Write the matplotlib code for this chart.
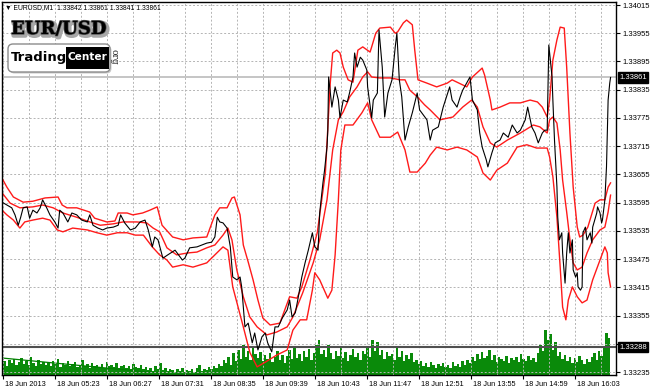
"""
EURUSD M1 chart with bands and tick volume, MT4 style.
"""

import numpy as np
import matplotlib
matplotlib.use("Agg")
import matplotlib.pyplot as plt
import matplotlib.patheffects as pe
from matplotlib import font_manager
from matplotlib.patches import FancyBboxPatch, Rectangle
from matplotlib.transforms import ScaledTranslation, blended_transform_factory

# ─── Data (bar index 0 = 18 Jun 2013 04:18, one bar per minute) ───────────────

close_pts = [
    (0, 1.33596), (6, 1.33590), (12, 1.33584), (16, 1.33569), (20, 1.33547), (23, 1.33564), (26, 1.33584), (31, 1.33586), (34, 1.33562), (38, 1.33579),
    (43, 1.33573), (47, 1.33584), (50, 1.33601), (55, 1.33584), (59, 1.33569), (65, 1.33554), (69, 1.33541), (71, 1.33579), (75, 1.33573), (81, 1.33554),
    (86, 1.33573), (92, 1.33569), (98, 1.33558), (105, 1.33554), (108, 1.33569), (112, 1.33547), (118, 1.33541), (124, 1.33537), (129, 1.33541), (137, 1.33543),
    (143, 1.33547), (146, 1.33569), (151, 1.33552), (158, 1.33537), (164, 1.33541), (170, 1.33554), (176, 1.33558), (180, 1.33537), (185, 1.33501), (188, 1.33522),
    (192, 1.33516), (198, 1.33477), (204, 1.33484), (213, 1.33494), (222, 1.33473), (225, 1.33477), (231, 1.33499), (240, 1.33501), (246, 1.33505), (252, 1.33509),
    (258, 1.33511), (262, 1.33522), (265, 1.33564), (268, 1.33554), (272, 1.33552), (277, 1.33541), (281, 1.33501), (284, 1.33437), (289, 1.33431), (293, 1.33437),
    (295, 1.33416), (299, 1.33331), (303, 1.33339), (308, 1.33297), (311, 1.33318), (315, 1.33282), (320, 1.33310), (324, 1.33318), (327, 1.33297), (332, 1.33278),
    (336, 1.33331), (340, 1.33331), (345, 1.33350), (351, 1.33367), (354, 1.33388), (357, 1.33352), (361, 1.33361), (364, 1.33388), (369, 1.33437), (373, 1.33467),
    (377, 1.33494), (382, 1.33531), (385, 1.33501), (389, 1.33494), (391, 1.33573), (395, 1.33637), (397, 1.33664), (400, 1.33713), (401, 1.33749), (402, 1.33862),
    (406, 1.33798), (410, 1.33841), (414, 1.33813), (416, 1.33775), (420, 1.33813), (425, 1.33809), (428, 1.33830), (432, 1.33862), (434, 1.33913), (437, 1.33883),
    (441, 1.33904), (444, 1.33898), (449, 1.33877), (450, 1.33841), (455, 1.33775), (457, 1.33813), (462, 1.33828), (464, 1.33962), (468, 1.33883), (471, 1.33777),
    (475, 1.33828), (480, 1.33856), (484, 1.33926), (486, 1.33955), (489, 1.33856), (492, 1.33820), (496, 1.33728), (500, 1.33756), (505, 1.33786), (511, 1.33828),
    (514, 1.33792), (523, 1.33771), (527, 1.33728), (530, 1.33749), (537, 1.33756), (543, 1.33798), (551, 1.33841), (554, 1.33813), (560, 1.33798), (564, 1.33820),
    (567, 1.33834), (576, 1.33862), (579, 1.33813), (585, 1.33792), (588, 1.33743), (591, 1.33713), (596, 1.33686), (598, 1.33671), (603, 1.33701), (607, 1.33722),
    (613, 1.33728), (617, 1.33743), (623, 1.33734), (628, 1.33760), (634, 1.33743), (638, 1.33749), (644, 1.33771), (647, 1.33798), (652, 1.33756), (656, 1.33743),
    (660, 1.33722), (665, 1.33743), (668, 1.33749), (671, 1.33749), (673, 1.33930), (677, 1.33862), (678, 1.33813), (680, 1.33728), (683, 1.33628), (684, 1.33564),
    (686, 1.33516), (689, 1.33531), (690, 1.33488), (693, 1.33424), (695, 1.33488), (697, 1.33531), (699, 1.33488), (702, 1.33516), (703, 1.33452), (706, 1.33437),
    (708, 1.33446), (709, 1.33416), (712, 1.33409), (714, 1.33416), (715, 1.33531), (718, 1.33543), (720, 1.33516), (724, 1.33531), (726, 1.33509), (727, 1.33543),
    (732, 1.33573), (733, 1.33586), (736, 1.33573), (738, 1.33552), (739, 1.33558), (742, 1.33601), (744, 1.33671), (746, 1.33813), (748, 1.33849), (749, 1.33861),
]

upper_pts = [
    (0, 1.33647), (6, 1.33628), (14, 1.33607), (26, 1.33596), (38, 1.33598), (53, 1.33605), (69, 1.33607), (74, 1.33590), (80, 1.33584), (92, 1.33584),
    (108, 1.33575), (114, 1.33562), (129, 1.33554), (139, 1.33556), (143, 1.33573), (154, 1.33573), (161, 1.33569), (173, 1.33573), (182, 1.33579), (191, 1.33586),
    (197, 1.33547), (210, 1.33522), (223, 1.33516), (235, 1.33520), (252, 1.33522), (262, 1.33569), (268, 1.33584), (277, 1.33584), (283, 1.33605), (286, 1.33607),
    (293, 1.33569), (297, 1.33505), (303, 1.33469), (309, 1.33431), (315, 1.33388), (321, 1.33350), (330, 1.33335), (342, 1.33339), (354, 1.33395), (363, 1.33392),
    (369, 1.33416), (379, 1.33473), (388, 1.33531), (391, 1.33569), (398, 1.33658), (404, 1.33849), (407, 1.33913), (412, 1.33919), (416, 1.33913), (420, 1.33883),
    (426, 1.33856), (432, 1.33851), (438, 1.33919), (444, 1.33926), (453, 1.33915), (455, 1.33926), (460, 1.33955), (465, 1.33966), (478, 1.33968), (484, 1.33955),
    (487, 1.33958), (494, 1.33977), (498, 1.33983), (505, 1.33973), (508, 1.33919), (512, 1.33856), (523, 1.33849), (535, 1.33841), (548, 1.33849), (554, 1.33856),
    (572, 1.33841), (579, 1.33862), (591, 1.33881), (594, 1.33866), (601, 1.33813), (603, 1.33792), (613, 1.33798), (625, 1.33807), (638, 1.33807), (650, 1.33813),
    (659, 1.33809), (665, 1.33798), (671, 1.33777), (674, 1.33813), (678, 1.33898), (683, 1.33941), (687, 1.33968), (692, 1.33966), (695, 1.33883), (699, 1.33743),
    (703, 1.33628), (708, 1.33543), (711, 1.33522), (715, 1.33526), (721, 1.33543), (730, 1.33594), (736, 1.33601), (742, 1.33601), (746, 1.33628), (749, 1.33637),
]

middle_pts = [
    (0, 1.33616), (10, 1.33594), (22, 1.33584), (38, 1.33586), (50, 1.33590), (63, 1.33584), (75, 1.33573), (92, 1.33564), (108, 1.33554), (121, 1.33547),
    (137, 1.33550), (149, 1.33554), (166, 1.33554), (178, 1.33552), (186, 1.33541), (194, 1.33533), (203, 1.33499), (215, 1.33484), (228, 1.33488), (240, 1.33490),
    (252, 1.33499), (262, 1.33505), (272, 1.33526), (278, 1.33541), (283, 1.33516), (289, 1.33452), (297, 1.33395), (305, 1.33352), (314, 1.33331), (326, 1.33314),
    (338, 1.33320), (351, 1.33331), (358, 1.33352), (370, 1.33403), (383, 1.33467), (391, 1.33516), (400, 1.33601), (407, 1.33707), (414, 1.33771), (420, 1.33788),
    (428, 1.33820), (437, 1.33841), (444, 1.33862), (450, 1.33873), (455, 1.33862), (465, 1.33860), (478, 1.33860), (490, 1.33856), (496, 1.33856), (502, 1.33834),
    (511, 1.33820), (520, 1.33803), (527, 1.33792), (539, 1.33771), (555, 1.33777), (567, 1.33798), (578, 1.33813), (585, 1.33798), (592, 1.33756), (601, 1.33722),
    (609, 1.33713), (622, 1.33728), (638, 1.33743), (654, 1.33760), (662, 1.33756), (671, 1.33743), (674, 1.33771), (678, 1.33777), (683, 1.33764), (687, 1.33707),
    (690, 1.33643), (695, 1.33575), (699, 1.33516), (703, 1.33467), (708, 1.33452), (714, 1.33458), (720, 1.33488), (727, 1.33516), (736, 1.33537), (742, 1.33543),
    (746, 1.33575), (749, 1.33611),
]

lower_pts = [
    (0, 1.33579), (6, 1.33569), (14, 1.33558), (22, 1.33541), (28, 1.33554), (38, 1.33558), (50, 1.33562), (59, 1.33558), (68, 1.33537), (75, 1.33533),
    (87, 1.33541), (105, 1.33537), (117, 1.33531), (129, 1.33526), (142, 1.33531), (154, 1.33531), (164, 1.33526), (174, 1.33526), (185, 1.33501), (194, 1.33484),
    (203, 1.33473), (210, 1.33458), (223, 1.33463), (235, 1.33458), (252, 1.33467), (262, 1.33484), (272, 1.33501), (278, 1.33494), (284, 1.33416), (297, 1.33331),
    (305, 1.33277), (314, 1.33246), (324, 1.33256), (338, 1.33271), (351, 1.33282), (358, 1.33324), (367, 1.33346), (375, 1.33346), (382, 1.33409), (385, 1.33446),
    (391, 1.33431), (401, 1.33392), (406, 1.33409), (410, 1.33484), (414, 1.33601), (417, 1.33707), (422, 1.33760), (432, 1.33760), (443, 1.33786), (450, 1.33807),
    (455, 1.33771), (465, 1.33734), (478, 1.33734), (487, 1.33745), (496, 1.33707), (502, 1.33660), (511, 1.33660), (521, 1.33679), (527, 1.33696), (535, 1.33713),
    (548, 1.33707), (560, 1.33713), (572, 1.33707), (585, 1.33692), (592, 1.33658), (601, 1.33643), (609, 1.33664), (622, 1.33679), (634, 1.33713), (646, 1.33718),
    (658, 1.33711), (671, 1.33711), (674, 1.33692), (678, 1.33650), (683, 1.33564), (687, 1.33458), (690, 1.33373), (694, 1.33346), (697, 1.33388), (702, 1.33416),
    (708, 1.33395), (714, 1.33382), (720, 1.33388), (727, 1.33431), (736, 1.33473), (742, 1.33501), (745, 1.33488), (746, 1.33446), (749, 1.33416),
]

# tick volume, one value per 3 bars starting at bar 0
VOL_STEP = 3
volume = [
    44, 56, 36, 60, 48, 64, 40, 52, 68, 44,
    56, 40, 72, 48, 36, 60, 44, 52, 40, 48,
    36, 56, 44, 64, 32, 48, 40, 56, 36, 44,
    52, 32, 40, 60, 36, 44, 28, 48, 36, 40,
    32, 44, 28, 52, 36, 40, 32, 48, 28, 36,
    40, 28, 36, 24, 44, 32, 28, 40, 24, 32,
    20, 28, 16, 36, 24, 48, 20, 28, 16, 24,
    20, 12, 24, 16, 28, 12, 20, 16, 24, 12,
    28, 40, 16, 24, 20, 32, 24, 36, 28, 44,
    36, 60, 48, 72, 40, 88, 56, 100, 64, 120,
    72, 96, 60, 112, 84, 68, 92, 56, 80, 64,
    88, 52, 72, 96, 60, 80, 48, 76, 100, 64,
    112, 68, 84, 56, 96, 72, 104, 60, 88, 120,
    140, 84, 100, 72, 120, 88, 64, 96, 76, 108,
    68, 92, 56, 80, 104, 72, 88, 60, 96, 84,
    112, 72, 140, 96, 132, 80, 100, 64, 92, 76,
    84, 60, 112, 72, 96, 56, 80, 64, 88, 52,
    60, 44, 56, 36, 48, 32, 52, 40, 28, 44,
    36, 48, 32, 40, 28, 52, 36, 44, 32, 56,
    40, 60, 48, 72, 56, 84, 64, 92, 68, 76,
    100, 60, 80, 52, 72, 64, 56, 76, 48, 68,
    60, 72, 52, 84, 64, 56, 76, 60, 68, 52,
    88, 120, 96, 180, 140, 164, 100, 132, 76, 92,
    64, 80, 56, 72, 48, 68, 52, 76, 60, 44,
    64, 52, 72, 88, 60, 96, 76, 112, 168, 148,
]

# straight line drawn in the volume pane (start bar, end bar)
vol_line_bars = [0, 205]
vol_line_vals = [68, 4]

time_labels = ["18 Jun 2013", "18 Jun 05:23", "18 Jun 06:27", "18 Jun 07:31",
               "18 Jun 08:35", "18 Jun 09:39", "18 Jun 10:43", "18 Jun 11:47",
               "18 Jun 12:51", "18 Jun 13:55", "18 Jun 14:59", "18 Jun 16:03"]
price_labels = ["1.33235", "1.33295", "1.33355", "1.33415", "1.33475", "1.33535",
                "1.33595", "1.33655", "1.33715", "1.33775", "1.33835", "1.33895",
                "1.33955", "1.34015"]

header = "\u25bc EURUSD,M1  1.33842 1.33861 1.33841 1.33861"
bid_price = 1.33861
line_price = 1.33288

# ─── Figure ───────────────────────────────────────────────────────────────────

W, H = 650, 391
fig = plt.figure(figsize=(W / 100, H / 100), dpi=100)
fig.patch.set_facecolor("white")

rect = [2 / W, (H - 375) / H, 614 / W, 373 / H]
n_bars = 755.7

names = {f.name for f in font_manager.fontManager.ttflist}
LAB_FONT = "Liberation Sans" if "Liberation Sans" in names else "DejaVu Sans"

# volume pane (behind price)
ax_v = fig.add_axes(rect)
vol_bars = np.arange(len(volume)) * VOL_STEP
ax_v.bar(vol_bars, volume, width=VOL_STEP * 0.98, color="#0a8a0a", linewidth=0)
ax_v.plot(vol_line_bars, vol_line_vals, color="#008000", lw=0.9)
ax_v.set_xlim(0, n_bars)
ax_v.set_ylim(0, 373 * 4)
ax_v.axis("off")

# price pane
ax = fig.add_axes(rect)
ax.patch.set_visible(False)

price_ticks = [float(p) for p in price_labels]
label_bars = list(range(1, 1 + 64 * len(time_labels), 64))

ax.set_xlim(0, n_bars)
ax.set_ylim(1.3322875, 1.3402138)

# grid
for p in price_ticks:
    ax.axhline(p, color="#b4b4b4", lw=0.7, ls=(0, (2, 2)), zorder=0)
for b in range(1, int(n_bars), 32):
    ax.axvline(b, color="#b4b4b4", lw=0.7, ls=(0, (2, 2)), zorder=0)

ax.axhline(bid_price, color="#c0c0c0", lw=1.3, zorder=1)
ax.axhline(line_price, color="#505050", lw=1.5, zorder=1)

for pts in (upper_pts, middle_pts, lower_pts):
    b, p = np.array(pts).T
    ax.plot(b, p, color="#ff1a1a", lw=1.0, zorder=2)

cb, cp = np.array(close_pts).T
ax.plot(cb, cp, color="black", lw=0.8, zorder=3)

# axes, ticks
for s in ax.spines.values():
    s.set_color("black")
    s.set_linewidth(1.0)

# labels hidden behind a price tag are left blank, as the terminal does
tag_prices = (bid_price, line_price)
shown = ["" if min(abs(float(l) - t) for t in tag_prices) < 0.00012 else l
         for l in price_labels]

ax.yaxis.tick_right()
ax.set_yticks(price_ticks)
ax.set_yticklabels(shown, fontsize=5.5, family=LAB_FONT)
ax.set_xticks(label_bars)
ax.set_xticklabels(time_labels, fontsize=5.3, family=LAB_FONT, ha="left")
ax.tick_params(axis="both", direction="out", length=3, width=0.8, pad=1.5, colors="black")
shift = ScaledTranslation(2 / 100, 0, fig.dpi_scale_trans)
for lab in ax.get_xticklabels():
    lab.set_transform(lab.get_transform() + shift)

# price tags on the right axis
tag_tr = blended_transform_factory(ax.transAxes, ax.transData)
for p in tag_prices:
    ax.text(1.005, p, f"{p:.5f}", transform=tag_tr, ha="left", va="center",
            fontsize=5.5, family=LAB_FONT, color="white", zorder=5, clip_on=False,
            bbox=dict(boxstyle="square,pad=0.2", fc="black", ec="black"))

# ─── Header and logo ──────────────────────────────────────────────────────────

def fx(x):
    return x / W

def fy(y):
    return 1 - y / H

fig.text(fx(5), fy(8), header, fontsize=4.9, family=LAB_FONT, va="center", ha="left")

fig.text(fx(11), fy(29), "EUR/USD", fontsize=13, family="DejaVu Serif", weight="bold",
         va="center", ha="left", color="black",
         path_effects=[pe.Stroke(linewidth=3, foreground="#a8a8a8", offset=(1.2, -1.2)),
                       pe.Stroke(linewidth=1.0, foreground="#505050"),
                       pe.Normal()])

inch = fig.dpi_scale_trans
fig.add_artist(FancyBboxPatch((0.095, (H - 73.5) / 100), 1.02, 0.28,
                              boxstyle="round,pad=0,rounding_size=0.05",
                              fc="#c8c8c8", ec="none", transform=inch))
fig.add_artist(FancyBboxPatch((0.08, (H - 72) / 100), 1.02, 0.28,
                              boxstyle="round,pad=0,rounding_size=0.05",
                              fc="white", ec="#8c8c8c", lw=1.0, transform=inch))
fig.add_artist(Rectangle((0.655, (H - 69) / 100), 0.43, 0.22, fc="black",
                         ec="none", transform=inch))

narrow = "Liberation Sans Narrow" in names
logo_font = "Liberation Sans Narrow" if narrow else "DejaVu Sans"
logo_size = 12.5 if narrow else 9.5
fig.text(fx(11), fy(57), "Trading", fontsize=logo_size, family=logo_font, weight="bold",
         va="center", ha="left", color="black")
fig.text(fx(87), fy(57), "Center", fontsize=logo_size * 0.8, family=logo_font, weight="bold",
         va="center", ha="center", color="white")
fig.text(fx(114), fy(57), "org", fontsize=6.5, family="DejaVu Serif", rotation=270,
         va="center", ha="center", color="#202020")

plt.savefig("out.png", dpi=100)
plt.close()
